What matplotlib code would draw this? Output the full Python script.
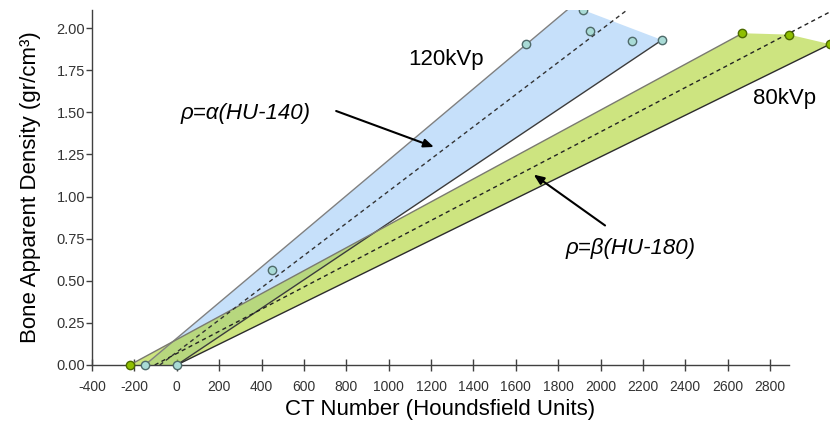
import numpy as np
import matplotlib
matplotlib.use("Agg")
import matplotlib.pyplot as plt

plt.rcParams['font.family'] = ['Liberation Sans', 'DejaVu Sans']

# measured points, 120 kVp (blue) and 80 kVp (green)
hu_120 = [-150, 0, 450, 1650, 1915, 1950, 2150, 2290]
rho_120 = [0.0, 0.0, 0.565, 1.905, 2.11, 1.985, 1.925, 1.93]
hu_80 = [-222, 2670, 2890, 3083]
rho_80 = [0.0, 1.97, 1.962, 1.905]

# confidence band outlines (polygon corners)
band_120_x = [-150, 1866, 2290, 0]
band_120_y = [0.0, 2.133, 1.93, 0.0]
band_80_x = [-222, 2670, 2890, 3083, 0]
band_80_y = [0.0, 1.97, 1.962, 1.905, 0.0]

# fitted lines (end points)
fit_120_x = [-80, 2300]
fit_120_y = [0.0, 2.275]
fit_80_x = [-104, 3100]
fit_80_y = [0.0, 2.108]

xticks = list(range(-400, 2801, 200))
yticks = [0.0, 0.25, 0.5, 0.75, 1.0, 1.25, 1.5, 1.75, 2.0]

fig = plt.figure(figsize=(8.3, 4.26), dpi=100)
ax = fig.add_axes([92 / 830, 1 - 365 / 426, 738 / 830, 355 / 426])

blue_fill = '#c6e0fa'
green_fill = '#add22b'

ax.fill(band_120_x, band_120_y, color=blue_fill, lw=0, zorder=1)
ax.fill(band_80_x, band_80_y, color=green_fill, alpha=0.6, lw=0, zorder=2)

# band edges
ax.plot([band_120_x[0], band_120_x[1]], [band_120_y[0], band_120_y[1]], color='#808080', lw=1, zorder=3)
ax.plot([band_120_x[3], band_120_x[2]], [band_120_y[3], band_120_y[2]], color='#3c3c3c', lw=1, zorder=3)
ax.plot([band_80_x[0], band_80_x[1]], [band_80_y[0], band_80_y[1]], color='#7a7a70', lw=1, zorder=3)
ax.plot([band_80_x[4], band_80_x[3]], [band_80_y[4], band_80_y[3]], color='#2c2c2c', lw=1, zorder=3)

# fits
ax.plot(fit_120_x, fit_120_y, color='#333333', lw=1, ls=(0, (3, 2.5)), zorder=4)
ax.plot(fit_80_x, fit_80_y, color='#222222', lw=1, ls=(0, (3, 2.5)), zorder=4)

# points on the axis stay whole, the rest is clipped by the plot area
for hu, rho, fc, ec in [(hu_120, rho_120, '#a9dbd6', '#4f6a6a'), (hu_80, rho_80, '#8fbf00', '#4c6a00')]:
    hu = np.array(hu)
    rho = np.array(rho)
    on_axis = rho == 0
    ax.plot(hu[on_axis], rho[on_axis], 'o', ms=6, mfc=fc, mec=ec, mew=1, ls='none', zorder=6, clip_on=False)
    ax.plot(hu[~on_axis], rho[~on_axis], 'o', ms=6, mfc=fc, mec=ec, mew=1, ls='none', zorder=6)

ax.set_xlim(-400, 3083)
ax.set_ylim(0, 2.108)

for s in ['top', 'right']:
    ax.spines[s].set_visible(False)
for s in ['left', 'bottom']:
    ax.spines[s].set_color('#404040')
    ax.spines[s].set_linewidth(1)
ax.spines['bottom'].set_bounds(-400, 2890)
ax.spines['bottom'].set_zorder(5)

ax.set_xticks(xticks)
ax.set_xticklabels([str(t) for t in xticks])
ax.set_yticks(yticks)
ax.set_yticklabels([f'{t:.2f}' for t in yticks])
ax.tick_params(axis='x', direction='inout', length=8, width=1, color='#404040',
               labelsize=10, labelcolor='#333333', pad=7)
ax.tick_params(axis='y', direction='out', length=4, width=1, color='#404040',
               labelsize=10.5, labelcolor='#333333', pad=1)

ax.set_xlabel('CT Number (Houndsfield Units)', fontsize=16)
ax.xaxis.set_label_coords(0.4716, -0.095)
ax.set_ylabel('Bone Apparent Density (gr/cm³)', fontsize=16)
ax.yaxis.set_label_coords(-0.069, 0.5)

ax.text(1273, 1.817, '120kVp', fontsize=16, ha='center', va='center')
ax.text(2867, 1.580, '80kVp', fontsize=16, ha='center', va='center')
ax.text(325, 1.496, 'ρ=α(HU-140)', fontsize=16, style='italic', ha='center', va='center')
ax.text(2140, 0.689, 'ρ=β(HU-180)', fontsize=16, style='italic', ha='center', va='center')

arrow = dict(arrowstyle='-|>,head_length=0.6,head_width=0.25', color='black', lw=1.5)
ax.annotate('', xy=(1226, 1.289), xytext=(740, 1.514), arrowprops=arrow, zorder=7)
ax.annotate('', xy=(1674, 1.140), xytext=(2032, 0.819), arrowprops=arrow, zorder=7)

fig.savefig('out.png', dpi=100)
